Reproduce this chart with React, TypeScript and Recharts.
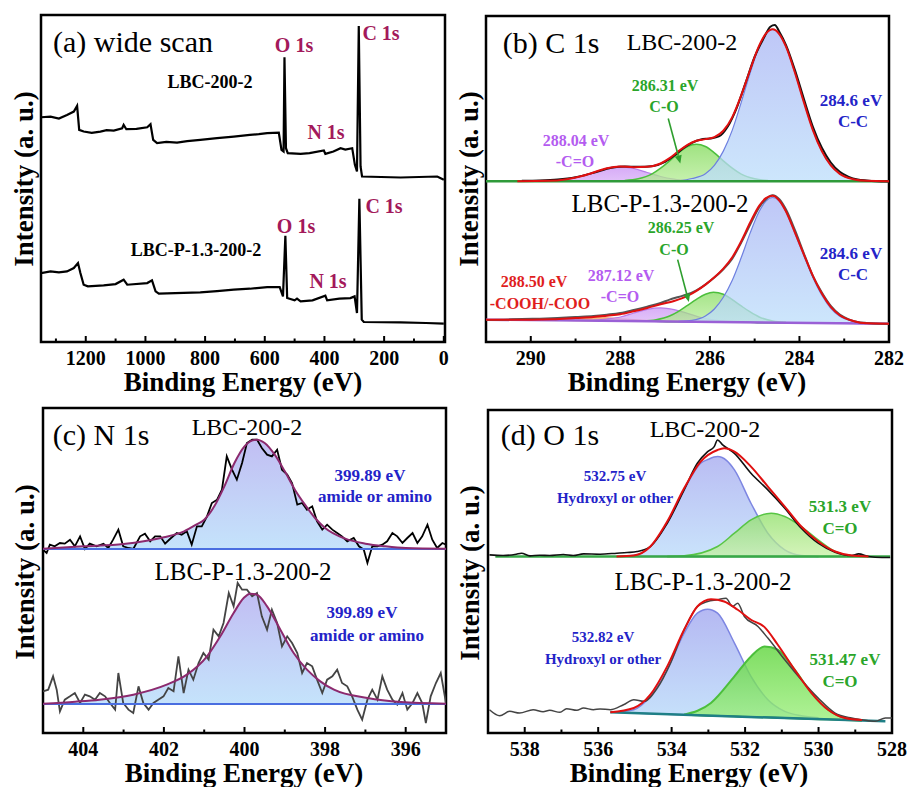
import React from 'react';
import { ComposedChart, Line, Area, XAxis, YAxis, ReferenceArea, ReferenceLine } from 'recharts';

type P = [number, number];
type R = [number, number, number];

// (a) wide scan
const aMajor = [1200, 1000, 800, 600, 400, 200, 0];
const aMinor = [1300, 1100, 900, 700, 500, 300, 100];
const aTop: P[] = [
  [1350, 675], [1318, 677], [1290, 671], [1263, 682], [1240, 692], [1229, 709], [1222, 637], [1207, 632],
  [1180, 628], [1151, 632], [1130, 636], [1106, 635], [1078, 642], [1073, 652], [1064, 639], [1030, 640],
  [994, 645], [983, 654], [974, 607], [961, 597], [930, 601], [894, 599], [860, 603], [816, 607], [760, 612],
  [704, 617], [650, 622], [620, 624], [592, 627], [553, 629], [544, 577], [537, 572], [534, 855], [529, 582],
  [523, 567], [480, 565], [450, 567], [402, 575], [397, 565], [370, 572], [346, 582], [330, 578], [307, 582],
  [298, 532], [291, 512], [285, 949], [279, 527], [274, 497], [145, 494], [22, 497], [0, 487],
];
const aBottom: P[] = [
  [1350, 207], [1318, 212], [1290, 209], [1263, 212], [1240, 222], [1226, 237], [1218, 207], [1207, 172],
  [1193, 167], [1140, 170], [1100, 174], [1073, 187], [1061, 172], [994, 177], [978, 185], [966, 152],
  [955, 145], [900, 147], [816, 149], [760, 153], [704, 157], [650, 160], [592, 165], [550, 165], [539, 137],
  [531, 319], [525, 132], [500, 125], [492, 130], [480, 122], [440, 125], [397, 139], [391, 125], [350, 130],
  [313, 132], [299, 137], [291, 87], [283, 430], [275, 67], [268, 60], [145, 59], [60, 57], [0, 55],
];

// (b) C 1s
const bMajor = [290, 288, 286, 284, 282];
const bMinor = [289, 287, 285, 283];
const bTopBase = 482;
const bTopRaw: P[] = [
  [290.2, 483], [289.8, 484], [289.4, 487], [289.0, 494], [288.6, 507], [288.2, 522], [287.9, 526], [287.6, 525],
  [287.3, 527], [287.0, 540], [286.8, 558], [286.6, 580], [286.4, 597], [286.2, 607], [286.0, 610], [285.8, 616],
  [285.6, 646], [285.4, 702], [285.2, 778], [285.0, 855], [284.8, 910], [284.65, 945], [284.55, 950],
  [284.45, 930], [284.3, 890], [284.1, 815], [283.9, 728], [283.7, 645], [283.5, 582], [283.3, 538],
  [283.1, 510], [282.9, 495], [282.7, 487], [282.5, 484], [282.3, 482], [282.0, 481],
];
const bTopFit: P[] = [
  [290.3, 482], [289.6, 483], [289.2, 488], [288.9, 496], [288.6, 508], [288.3, 521], [288.0, 526],
  [287.7, 524], [287.4, 525], [287.1, 535], [286.9, 551], [286.7, 572], [286.5, 591], [286.3, 603], [286.1, 608],
  [285.9, 614], [285.7, 633], [285.5, 674], [285.3, 739], [285.1, 816], [284.9, 888], [284.75, 924], [284.6, 937],
  [284.45, 923], [284.3, 885], [284.1, 807], [283.9, 718], [283.7, 635], [283.5, 572], [283.3, 529], [283.1, 504],
  [282.8, 488], [282.5, 483], [282.0, 482],
];
const bTopCC: P[] = [
  [286.7, 483], [286.4, 490], [286.1, 504], [285.9, 529], [285.7, 572], [285.5, 635], [285.3, 718], [285.1, 807],
  [284.9, 885], [284.75, 923], [284.6, 937], [284.45, 923], [284.3, 885], [284.1, 807], [283.9, 718], [283.7, 635],
  [283.5, 572], [283.3, 529], [283.1, 504], [282.8, 488], [282.5, 483],
];
const bTopCO: P[] = [
  [287.9, 484], [287.6, 489], [287.3, 503], [287.1, 521], [286.9, 543], [286.7, 567], [286.5, 586], [286.3, 593],
  [286.1, 586], [285.9, 567], [285.7, 543], [285.5, 521], [285.3, 503], [285.0, 489], [284.7, 484],
];
const bTopCdO: P[] = [
  [289.6, 483], [289.2, 488], [288.9, 496], [288.6, 508], [288.3, 520], [288.0, 525], [287.7, 520], [287.4, 508],
  [287.1, 496], [286.8, 488], [286.5, 483],
];
const bBotBase: P[] = [[291, 67], [282, 55]];
const bBotRaw: P[] = [
  [291.0, 66], [290.6, 67], [290.2, 69], [289.8, 70], [289.4, 72], [289.0, 75], [288.6, 78], [288.3, 82],
  [288.0, 87], [287.7, 96], [287.4, 106], [287.1, 117], [286.9, 127], [286.7, 135], [286.5, 143], [286.3, 155],
  [286.1, 172], [285.9, 193], [285.7, 218], [285.5, 250], [285.3, 298], [285.1, 352], [284.9, 403], [284.75, 428],
  [284.6, 440], [284.45, 428], [284.3, 397], [284.1, 335], [283.9, 265], [283.7, 198], [283.5, 148], [283.3, 108],
  [283.1, 82], [282.9, 68], [282.7, 60], [282.5, 57], [282.2, 55], [282.0, 55],
];
const bBotFit: P[] = [
  [291, 67], [290.5, 67], [290.0, 67], [289.5, 68], [289.0, 72], [288.6, 75], [288.3, 79], [288.0, 83],
  [287.7, 92], [287.4, 102], [287.1, 113], [286.8, 123], [286.5, 138], [286.3, 153], [286.1, 172], [285.9, 194],
  [285.7, 220], [285.5, 254], [285.3, 302], [285.1, 358], [284.9, 408], [284.75, 431], [284.6, 438], [284.45, 424],
  [284.3, 391], [284.1, 328], [283.9, 262], [283.7, 198], [283.5, 145], [283.3, 105], [283.1, 80], [282.8, 63],
  [282.5, 56], [282.0, 55],
];
const bBotCC: R[] = [
  [286.7, 61, 62], [286.4, 60, 65], [286.1, 60, 78], [285.9, 60, 99], [285.7, 59, 134], [285.5, 59, 185],
  [285.3, 59, 253], [285.1, 59, 327], [284.9, 58, 391], [284.75, 58, 422], [284.6, 58, 433], [284.45, 58, 422],
  [284.3, 58, 390], [284.1, 57, 325], [283.9, 57, 258], [283.7, 57, 193], [283.5, 57, 140], [283.3, 56, 101],
  [283.1, 56, 77], [282.8, 56, 62], [282.5, 55, 56],
];
const bBotCO: R[] = [
  [287.5, 62, 63], [287.2, 62, 67], [286.9, 61, 78], [286.7, 61, 92], [286.5, 61, 110], [286.3, 60, 128],
  [286.1, 60, 143], [285.92, 60, 149], [285.7, 60, 143], [285.5, 59, 127], [285.3, 59, 108], [285.1, 59, 90],
  [284.9, 58, 75], [284.6, 58, 63], [284.3, 58, 59],
];
const bBotCdO: R[] = [
  [288.6, 64, 65], [288.3, 63, 69], [288.0, 62, 75], [287.7, 62, 87], [287.4, 62, 98], [287.1, 61, 102],
  [286.8, 61, 97], [286.5, 61, 86], [286.2, 60, 73], [285.9, 60, 66], [285.6, 59, 62],
];
const bBotCOOH: R[] = [
  [290.0, 66, 66.5], [289.5, 65, 68], [289.0, 64, 71], [288.5, 63.5, 73], [288.0, 63, 70], [287.5, 62.5, 65.5],
  [287.0, 62, 62.5],
];

// (c) N 1s
const cMajor = [404, 402, 400, 398, 396];
const cMinor = [405, 403, 401, 399, 397, 395];
const cTopBase = 552;
const cTopRaw: P[] = [
  [405.0, 550], [404.91, 540], [404.83, 565], [404.71, 560], [404.58, 570], [404.46, 568], [404.33, 580],
  [404.21, 560], [404.08, 590], [403.96, 552], [403.84, 568], [403.67, 560], [403.5, 568], [403.38, 555],
  [403.26, 580], [403.13, 610], [403.01, 560], [402.88, 555], [402.76, 552], [402.59, 590], [402.47, 598],
  [402.34, 575], [402.22, 590], [402.09, 590], [401.97, 568], [401.85, 582], [401.68, 600], [401.56, 595],
  [401.43, 605], [401.31, 565], [401.18, 620], [401.06, 620], [400.93, 650], [400.81, 690], [400.68, 700],
  [400.56, 730], [400.44, 830], [400.31, 790], [400.19, 760], [400.06, 810], [399.94, 870], [399.81, 880],
  [399.69, 880], [399.57, 855], [399.44, 835], [399.32, 830], [399.19, 850], [399.07, 790], [398.94, 775],
  [398.82, 750], [398.69, 685], [398.57, 690], [398.45, 670], [398.32, 680], [398.2, 635], [398.07, 610],
  [397.95, 625], [397.82, 610], [397.7, 600], [397.58, 590], [397.45, 575], [397.29, 585], [397.16, 560],
  [397.04, 550], [396.95, 510], [396.83, 560], [396.7, 560], [396.58, 565], [396.46, 575], [396.33, 600],
  [396.21, 590], [396.08, 570], [395.96, 585], [395.83, 600], [395.71, 570], [395.59, 590], [395.46, 625],
  [395.34, 580], [395.22, 555], [395.09, 570], [395.0, 565],
];
const cTopFit: P[] = [
  [405, 553], [404, 560], [403, 567], [402.5, 575], [402, 587], [401.5, 605], [401.2, 625], [401, 640],
  [400.75, 680], [400.5, 740], [400.25, 810], [400, 860], [399.8, 878], [399.69, 880], [399.5, 870],
  [399.25, 835], [399, 785], [398.75, 730], [398.5, 685], [398.25, 645], [398, 615], [397.5, 583], [397, 568],
  [396.5, 560], [396, 555], [395, 553],
];
const cBotBase = 87;
const cBotRaw: P[] = [
  [405.0, 125], [404.87, 130], [404.75, 170], [404.66, 130], [404.58, 65], [404.46, 100], [404.33, 110],
  [404.21, 120], [404.08, 90], [403.96, 115], [403.84, 110], [403.71, 100], [403.59, 120], [403.46, 110],
  [403.34, 90], [403.21, 70], [403.13, 180], [403.01, 90], [402.88, 70], [402.76, 60], [402.63, 140],
  [402.51, 90], [402.38, 70], [402.26, 90], [402.14, 100], [402.01, 110], [401.89, 135], [401.76, 125],
  [401.64, 230], [401.51, 120], [401.39, 190], [401.27, 160], [401.14, 210], [401.02, 240], [400.89, 220],
  [400.77, 310], [400.64, 290], [400.52, 330], [400.39, 420], [400.27, 380], [400.17, 450], [400.06, 430],
  [399.94, 430], [399.81, 410], [399.69, 420], [399.57, 350], [399.44, 310], [399.32, 370], [399.19, 330],
  [399.07, 260], [398.94, 290], [398.82, 270], [398.69, 240], [398.57, 180], [398.45, 210], [398.32, 200],
  [398.2, 160], [398.07, 120], [397.95, 160], [397.82, 170], [397.7, 190], [397.58, 150], [397.45, 140],
  [397.33, 110], [397.2, 70], [397.08, 40], [396.95, 100], [396.83, 130], [396.7, 100], [396.58, 170],
  [396.46, 130], [396.33, 100], [396.21, 85], [396.08, 120], [395.96, 70], [395.83, 90], [395.71, 120],
  [395.59, 90], [395.5, 30], [395.38, 110], [395.25, 150], [395.13, 180], [395.0, 90],
];
const cBotFit: P[] = [
  [405, 88], [404.2, 94], [403.6, 100], [402.76, 115], [401.93, 145], [401.43, 175], [400.93, 230], [400.6, 290],
  [400.27, 360], [400.02, 405], [399.86, 418], [399.69, 415], [399.44, 380], [399.11, 310], [398.78, 240],
  [398.45, 190], [398.12, 155], [397.78, 130], [396.95, 105], [396.12, 93], [395, 88],
];

// (d) O 1s
const dMajor = [538, 536, 534, 532, 530, 528];
const dMinor = [537, 535, 533, 531, 529];
const dTopBase = 530;
const dTopRaw: P[] = [
  [538.96, 535], [538.59, 533], [538.23, 537], [538.09, 540], [537.86, 532], [537.59, 534], [537.32, 533],
  [536.95, 536], [536.68, 533], [536.4, 538], [535.95, 537], [535.49, 540], [535.21, 542], [534.94, 545],
  [534.58, 560], [534.12, 630], [533.66, 730], [533.3, 810], [533.02, 845], [532.84, 860], [532.75, 880],
  [532.61, 865], [532.29, 840], [531.84, 780], [531.38, 730], [530.92, 675], [530.47, 615], [530.01, 570],
  [529.55, 543], [529.1, 533], [528.91, 538], [528.64, 530], [528.27, 527], [528.05, 527],
];
const dTopFit: P[] = [
  [535.5, 530], [535.03, 533], [534.58, 560], [534.12, 635], [533.66, 735], [533.21, 815], [532.75, 850],
  [532.57, 855], [532.29, 845], [531.84, 800], [531.38, 740], [530.92, 680], [530.47, 620], [530.01, 575],
  [529.55, 545], [529.1, 533], [528.64, 530],
];
const dTopOH: P[] = [
  [535.4, 530], [534.94, 535], [534.58, 560], [534.12, 630], [533.66, 730], [533.21, 810], [533.0, 822],
  [532.75, 830], [532.5, 818], [532.29, 790], [531.84, 690], [531.38, 600], [530.92, 550], [530.47, 533],
  [530.0, 530],
];
const dTopCO: P[] = [
  [534.12, 530], [533.66, 532], [532.75, 560], [532.29, 600], [531.84, 640], [531.29, 660], [530.92, 650],
  [530.47, 620], [530.01, 580], [529.55, 545], [529.1, 532], [528.64, 530],
];
const dBotBase: P[] = [[535.67, 62], [528.18, 35]];
const dBotRaw: P[] = [
  [538.96, 70], [538.68, 52], [538.41, 65], [538.14, 60], [537.77, 70], [537.5, 64], [537.32, 68], [537.04, 62],
  [536.86, 73], [536.58, 68], [536.4, 75], [536.13, 70], [535.95, 72], [535.67, 70], [535.31, 85], [535.03, 100],
  [534.76, 95], [534.39, 135], [534.03, 210], [533.66, 310], [533.3, 380], [533.02, 395], [532.75, 400],
  [532.52, 405], [532.34, 380], [532.2, 390], [532.02, 350], [531.65, 320], [531.38, 285], [530.92, 220],
  [530.47, 160], [530.01, 105], [529.55, 60], [529.1, 45], [528.82, 40], [528.46, 35], [528.18, 45], [528.0, 45],
];
const dBotFit: P[] = [
  [535.67, 62], [535.03, 75], [534.58, 115], [534.12, 200], [533.66, 310], [533.3, 380], [532.93, 402],
  [532.57, 395], [532.2, 370], [531.84, 340], [531.47, 318], [531.11, 265], [530.65, 190], [530.19, 120],
  [529.74, 70], [529.28, 45], [528.82, 39],
];
const dBotOH: R[] = [
  [535.58, 62, 62], [535.03, 60, 70], [534.58, 58, 110], [534.12, 56, 190], [533.66, 55, 300], [533.3, 53, 360],
  [533.02, 52, 372], [532.75, 51, 360], [532.29, 50, 270], [531.84, 48, 170], [531.38, 47, 100], [530.92, 45, 65],
  [530.47, 43, 52], [530.0, 42, 46],
];
const dBotCO: R[] = [
  [533.66, 55, 55], [532.93, 52, 90], [532.29, 50, 170], [531.84, 48, 230], [531.47, 47, 260], [531.11, 46, 250],
  [530.65, 44, 190], [530.19, 42, 120], [529.74, 41, 70], [529.28, 39, 45], [528.82, 37, 38],
];

const FONT = '"Liberation Serif", "Times New Roman", serif';
const GREEN_TXT = '#2aa52a';
const BLUE_TXT = '#2323c8';
const PURPLE_TXT = '#b45cf0';
const RED_TXT = '#e01e1e';
const MAG_TXT = '#a3195b';

const xy = (a: P[]) => a.map(([x, y]) => ({ x, y }));
const band = (a: P[], base: number) => a.map(([x, y]) => ({ x, r: [base, y] }));
const band3 = (a: R[]) => a.map(([x, lo, hi]) => ({ x, r: [lo, hi] }));

const renderTick = (p: any, major: number[]) => {
  const v = p.payload.value;
  const isMajor = major.includes(v);
  return (
    <g>
      <line x1={p.x} x2={p.x} y1={p.y} y2={p.y - (isMajor ? 6 : 3.5)} stroke="#000" strokeWidth={2} />
      {isMajor && (
        <text x={p.x} y={p.y + 23} textAnchor="middle" fontFamily={FONT} fontSize={20} fontWeight="bold" fill="#000">
          {v}
        </text>
      )}
    </g>
  );
};

const arrowShape = (p: any) => {
  const { x1, y1, x2, y2 } = p;
  const a = Math.atan2(y2 - y1, x2 - x1);
  const h = 8;
  const w = 3.5;
  const bx = x2 - h * Math.cos(a);
  const by = y2 - h * Math.sin(a);
  const pts = `${x2},${y2} ${bx + w * Math.sin(a)},${by - w * Math.cos(a)} ${bx - w * Math.sin(a)},${by + w * Math.cos(a)}`;
  return (
    <g>
      <line x1={x1} y1={y1} x2={bx} y2={by} stroke="#2e9e2e" strokeWidth={1.6} />
      <polygon points={pts} fill="#2e9e2e" />
    </g>
  );
};

interface PanelProps {
  left: number;
  top: number;
  width: number;
  height: number;
  margin: { top: number; right: number; bottom: number; left: number };
  domain: [number, number];
  yMax: number;
  major: number[];
  minor: number[];
  children?: React.ReactNode;
}

const Panel = ({ left, top, width, height, margin, domain, yMax, major, minor, children }: PanelProps) => (
  <div style={{ position: 'absolute', left, top }}>
    <ComposedChart width={width} height={height} margin={margin}>
      <XAxis
        dataKey="x"
        type="number"
        domain={domain}
        reversed
        allowDataOverflow
        ticks={[...major, ...minor].sort((a, b) => a - b)}
        interval={0}
        axisLine={false}
        tickLine={false}
        tickSize={0}
        tickMargin={0}
        height={30}
        tick={(p: any) => renderTick(p, major)}
      />
      <YAxis type="number" domain={[0, yMax]} hide allowDataOverflow />
      {children}
      <ReferenceArea x1={domain[0]} x2={domain[1]} y1={0} y2={yMax} fill="none" stroke="#000" strokeWidth={2.5} ifOverflow="visible" />
    </ComposedChart>
  </div>
);

const Txt = ({ x, y, size, color = '#000', bold = true, rotate = false, children }: any) => (
  <div
    style={{
      position: 'absolute',
      left: x,
      top: y,
      transform: `translate(-50%, -50%)${rotate ? ' rotate(-90deg)' : ''}`,
      fontFamily: FONT,
      fontSize: size,
      fontWeight: bold ? 700 : 400,
      color,
      whiteSpace: 'nowrap',
      lineHeight: 0.72,
    }}
  >
    {children}
  </div>
);

const grad = (id: string, top: string, bottom: string) => (
  <linearGradient id={id} x1="0" y1="0" x2="0" y2="1">
    <stop offset="0%" stopColor={top} />
    <stop offset="100%" stopColor={bottom} />
  </linearGradient>
);

export default function App() {
  return (
    <div style={{ position: 'absolute', left: 0, top: 0, width: 907, height: 787, background: '#fff', overflow: 'hidden' }}>
      {/* (a) */}
      <Panel left={0} top={0} width={460} height={400} margin={{ top: 15, right: 15, bottom: 28, left: 41 }}
        domain={[-4, 1350]} yMax={982} major={aMajor} minor={aMinor}>
        <Line data={xy(aTop)} dataKey="y" type="linear" stroke="#000" strokeWidth={2.2} dot={false} activeDot={false} isAnimationActive={false} />
        <Line data={xy(aBottom)} dataKey="y" type="linear" stroke="#000" strokeWidth={2.2} dot={false} activeDot={false} isAnimationActive={false} />
      </Panel>

      {/* (b) */}
      <Panel left={450} top={0} width={457} height={400} margin={{ top: 16, right: 18, bottom: 28, left: 36 }}
        domain={[282, 291]} yMax={977} major={bMajor} minor={bMinor}>
        <defs>
          {grad('bBlue', '#a9b4f4', '#bcdefb')}
          {grad('bGreen', '#7fd957', '#b3ec92')}
          {grad('bPurple', '#cf9cf5', '#dcb6f8')}
        </defs>
        <Area data={band(bTopCdO, bTopBase)} dataKey="r" type="monotone" stroke="#b77be8" strokeWidth={1.2} fill="url(#bPurple)" fillOpacity={0.85} isAnimationActive={false} />
        <Area data={band(bTopCO, bTopBase)} dataKey="r" type="monotone" stroke="#4cbf3c" strokeWidth={1.5} fill="url(#bGreen)" fillOpacity={0.75} isAnimationActive={false} />
        <Area data={band(bTopCC, bTopBase)} dataKey="r" type="monotone" stroke="#6d7fe0" strokeWidth={1.2} fill="url(#bBlue)" fillOpacity={0.75} isAnimationActive={false} />
        <Line data={xy([[291, bTopBase], [282, bTopBase]])} dataKey="y" stroke="#2f9a3a" strokeWidth={2.5} dot={false} activeDot={false} isAnimationActive={false} />
        <Line data={xy(bTopRaw)} dataKey="y" type="monotone" stroke="#111" strokeWidth={2} dot={false} activeDot={false} isAnimationActive={false} />
        <Line data={xy(bTopFit)} dataKey="y" type="monotone" stroke="#e01010" strokeWidth={2} dot={false} activeDot={false} isAnimationActive={false} />

        <Area data={band3(bBotCOOH)} dataKey="r" type="monotone" stroke="#f08a4a" strokeWidth={1} fill="#f4b07a" fillOpacity={0.8} isAnimationActive={false} />
        <Area data={band3(bBotCdO)} dataKey="r" type="monotone" stroke="#b77be8" strokeWidth={1.2} fill="url(#bPurple)" fillOpacity={0.8} isAnimationActive={false} />
        <Area data={band3(bBotCO)} dataKey="r" type="monotone" stroke="#4cbf3c" strokeWidth={1.5} fill="url(#bGreen)" fillOpacity={0.7} isAnimationActive={false} />
        <Area data={band3(bBotCC)} dataKey="r" type="monotone" stroke="#6d7fe0" strokeWidth={1.2} fill="url(#bBlue)" fillOpacity={0.75} isAnimationActive={false} />
        <Line data={xy(bBotBase)} dataKey="y" stroke="#9a60d6" strokeWidth={2.5} dot={false} activeDot={false} isAnimationActive={false} />
        <Line data={xy(bBotRaw)} dataKey="y" type="monotone" stroke="#555" strokeWidth={2} dot={false} activeDot={false} isAnimationActive={false} />
        <Line data={xy(bBotFit)} dataKey="y" type="monotone" stroke="#e01010" strokeWidth={2} dot={false} activeDot={false} isAnimationActive={false} />

        <ReferenceLine segment={[{ x: 286.93, y: 670 }, { x: 286.66, y: 535 }]} shape={arrowShape} ifOverflow="visible" />
        <ReferenceLine segment={[{ x: 286.72, y: 247 }, { x: 286.47, y: 120 }]} shape={arrowShape} ifOverflow="visible" />
      </Panel>

      {/* (c) */}
      <Panel left={0} top={390} width={460} height={397} margin={{ top: 18, right: 14, bottom: 24, left: 43 }}
        domain={[395, 405]} yMax={975} major={cMajor} minor={cMinor}>
        <defs>
          {grad('cBlue', '#b2aef0', '#b6dcfa')}
        </defs>
        <Line data={xy(cTopRaw)} dataKey="y" type="linear" stroke="#000" strokeWidth={1.8} dot={false} activeDot={false} isAnimationActive={false} />
        <Area data={band(cTopFit, cTopBase)} dataKey="r" type="monotone" stroke="none" fill="url(#cBlue)" fillOpacity={0.8} isAnimationActive={false} />
        <Line data={xy([[405, cTopBase], [395, cTopBase]])} dataKey="y" stroke="#4a6ee0" strokeWidth={2} dot={false} activeDot={false} isAnimationActive={false} />
        <Line data={xy(cTopFit)} dataKey="y" type="monotone" stroke="#8c2a6e" strokeWidth={2} dot={false} activeDot={false} isAnimationActive={false} />

        <Line data={xy(cBotRaw)} dataKey="y" type="linear" stroke="#444" strokeWidth={1.8} dot={false} activeDot={false} isAnimationActive={false} />
        <Area data={band(cBotFit, cBotBase)} dataKey="r" type="monotone" stroke="none" fill="url(#cBlue)" fillOpacity={0.8} isAnimationActive={false} />
        <Line data={xy([[405, cBotBase], [395, cBotBase]])} dataKey="y" stroke="#4a6ee0" strokeWidth={2} dot={false} activeDot={false} isAnimationActive={false} />
        <Line data={xy(cBotFit)} dataKey="y" type="monotone" stroke="#8c2a6e" strokeWidth={2} dot={false} activeDot={false} isAnimationActive={false} />
      </Panel>

      {/* (d) */}
      <Panel left={450} top={390} width={457} height={397} margin={{ top: 20, right: 15, bottom: 24, left: 38 }}
        domain={[528, 539]} yMax={970} major={dMajor} minor={dMinor}>
        <defs>
          {grad('dBlue', '#a8acf0', '#bcdcfa')}
          {grad('dGreenA', '#8ddf66', '#c6f0a2')}
          {grad('dGreenB', '#5ed53b', '#9cef7c')}
        </defs>
        <Area data={band(dTopOH, dTopBase)} dataKey="r" type="monotone" stroke="#7d86e2" strokeWidth={1.5} fill="url(#dBlue)" fillOpacity={0.8} isAnimationActive={false} />
        <Area data={band(dTopCO, dTopBase)} dataKey="r" type="monotone" stroke="#58c545" strokeWidth={1.5} fill="url(#dGreenA)" fillOpacity={0.75} isAnimationActive={false} />
        <Line data={xy([[538.8, dTopBase], [528.05, dTopBase]])} dataKey="y" stroke="#38a848" strokeWidth={2.5} dot={false} activeDot={false} isAnimationActive={false} />
        <Line data={xy(dTopRaw)} dataKey="y" type="monotone" stroke="#111" strokeWidth={1.6} dot={false} activeDot={false} isAnimationActive={false} />
        <Line data={xy(dTopFit)} dataKey="y" type="monotone" stroke="#e01010" strokeWidth={2} dot={false} activeDot={false} isAnimationActive={false} />

        <Area data={band3(dBotOH)} dataKey="r" type="monotone" stroke="#7d86e2" strokeWidth={1.5} fill="url(#dBlue)" fillOpacity={0.85} isAnimationActive={false} />
        <Area data={band3(dBotCO)} dataKey="r" type="monotone" stroke="#4cbf3c" strokeWidth={2} fill="url(#dGreenB)" fillOpacity={0.8} isAnimationActive={false} />
        <Line data={xy(dBotBase)} dataKey="y" stroke="#1f7f86" strokeWidth={2.5} dot={false} activeDot={false} isAnimationActive={false} />
        <Line data={xy(dBotRaw)} dataKey="y" type="monotone" stroke="#444" strokeWidth={1.5} dot={false} activeDot={false} isAnimationActive={false} />
        <Line data={xy(dBotFit)} dataKey="y" type="monotone" stroke="#e01010" strokeWidth={2} dot={false} activeDot={false} isAnimationActive={false} />
      </Panel>

      {/* axis titles */}
      <Txt x={243} y={383} size={27}>Binding Energy (eV)</Txt>
      <Txt x={687} y={383} size={27}>Binding Energy (eV)</Txt>
      <Txt x={244} y={774} size={27}>Binding Energy (eV)</Txt>
      <Txt x={689} y={774} size={27}>Binding Energy (eV)</Txt>
      <Txt x={25} y={179} size={27} rotate>Intensity (a. u.)</Txt>
      <Txt x={470} y={179} size={27} rotate>Intensity (a. u.)</Txt>
      <Txt x={26} y={572} size={27} rotate>Intensity (a. u.)</Txt>
      <Txt x={471} y={573} size={27} rotate>Intensity (a. u.)</Txt>

      {/* (a) notes */}
      <Txt x={133} y={42} size={30} bold={false}>(a) wide scan</Txt>
      <Txt x={294} y={45} size={20} color={MAG_TXT}>O 1s</Txt>
      <Txt x={381} y={33} size={20} color={MAG_TXT}>C 1s</Txt>
      <Txt x={326} y={132} size={20} color={MAG_TXT}>N 1s</Txt>
      <Txt x={210} y={82} size={18}>LBC-200-2</Txt>
      <Txt x={296} y={226} size={20} color={MAG_TXT}>O 1s</Txt>
      <Txt x={384} y={206} size={20} color={MAG_TXT}>C 1s</Txt>
      <Txt x={328} y={281} size={20} color={MAG_TXT}>N 1s</Txt>
      <Txt x={196} y={250} size={18}>LBC-P-1.3-200-2</Txt>

      {/* (b) notes */}
      <Txt x={551} y={43} size={30} bold={false}>(b) C 1s</Txt>
      <Txt x={682} y={43} size={24} bold={false}>LBC-200-2</Txt>
      <Txt x={665} y={86} size={16} color={GREEN_TXT}>286.31 eV</Txt>
      <Txt x={664} y={107} size={16} color={GREEN_TXT}>C-O</Txt>
      <Txt x={851} y={101} size={17} color={BLUE_TXT}>284.6 eV</Txt>
      <Txt x={853} y={122} size={17} color={BLUE_TXT}>C-C</Txt>
      <Txt x={576} y={141} size={16} color={PURPLE_TXT}>288.04 eV</Txt>
      <Txt x={575} y={162} size={16} color={PURPLE_TXT}>-C=O</Txt>
      <Txt x={660} y={204} size={25} bold={false}>LBC-P-1.3-200-2</Txt>
      <Txt x={681} y={228} size={16} color={GREEN_TXT}>286.25 eV</Txt>
      <Txt x={674} y={250} size={16} color={GREEN_TXT}>C-O</Txt>
      <Txt x={851} y={254} size={17} color={BLUE_TXT}>284.6 eV</Txt>
      <Txt x={853} y={275} size={17} color={BLUE_TXT}>C-C</Txt>
      <Txt x={534} y={282} size={16} color={RED_TXT}>288.50 eV</Txt>
      <Txt x={540} y={304} size={16} color={RED_TXT}>-COOH/-COO</Txt>
      <Txt x={621} y={276} size={16} color={PURPLE_TXT}>287.12 eV</Txt>
      <Txt x={620} y={297} size={16} color={PURPLE_TXT}>-C=O</Txt>

      {/* (c) notes */}
      <Txt x={101} y={435} size={30} bold={false}>(c) N 1s</Txt>
      <Txt x={247} y={428} size={24} bold={false}>LBC-200-2</Txt>
      <Txt x={370} y={476} size={17} color={BLUE_TXT}>399.89 eV</Txt>
      <Txt x={375} y={497} size={17} color={BLUE_TXT}>amide or amino</Txt>
      <Txt x={243} y={572} size={25} bold={false}>LBC-P-1.3-200-2</Txt>
      <Txt x={362} y={613} size={17} color={BLUE_TXT}>399.89 eV</Txt>
      <Txt x={367} y={636} size={17} color={BLUE_TXT}>amide or amino</Txt>

      {/* (d) notes */}
      <Txt x={550} y={435} size={30} bold={false}>(d) O 1s</Txt>
      <Txt x={705} y={430} size={24} bold={false}>LBC-200-2</Txt>
      <Txt x={615} y={476} size={15} color={BLUE_TXT}>532.75 eV</Txt>
      <Txt x={615} y={498} size={15} color={BLUE_TXT}>Hydroxyl or other</Txt>
      <Txt x={840} y={507} size={17} color={GREEN_TXT}>531.3 eV</Txt>
      <Txt x={840} y={529} size={17} color={GREEN_TXT}>C=O</Txt>
      <Txt x={703} y={582} size={25} bold={false}>LBC-P-1.3-200-2</Txt>
      <Txt x={603} y={637} size={15} color={BLUE_TXT}>532.82 eV</Txt>
      <Txt x={603} y={659} size={15} color={BLUE_TXT}>Hydroxyl or other</Txt>
      <Txt x={845} y={660} size={17} color={GREEN_TXT}>531.47 eV</Txt>
      <Txt x={840} y={682} size={17} color={GREEN_TXT}>C=O</Txt>
    </div>
  );
}
